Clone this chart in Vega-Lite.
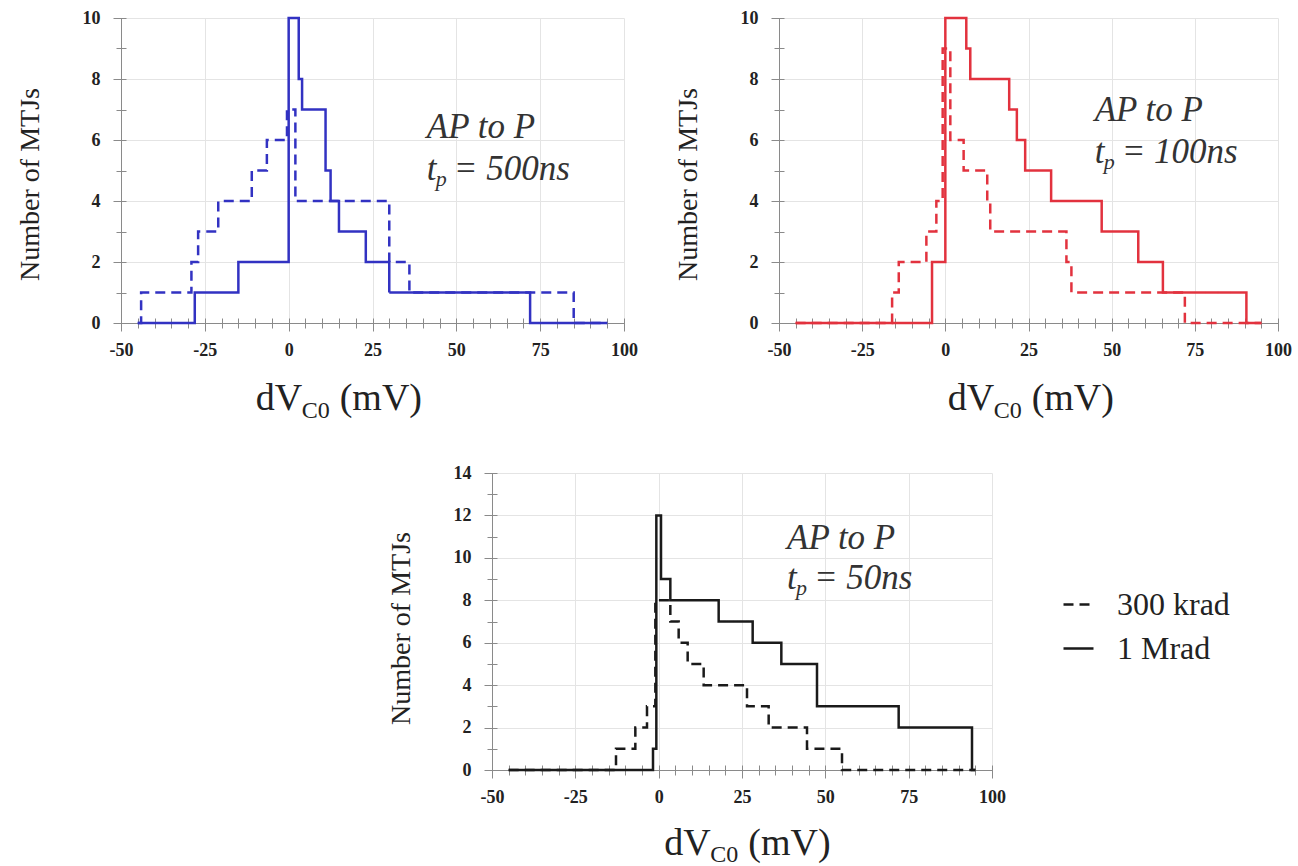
{
  "$schema": "https://vega.github.io/schema/vega-lite/v6.json",
  "background": "white",
  "padding": {"left": 16, "top": 9, "right": 0, "bottom": 0},
  "config": {
    "view": {"stroke": null},
    "axis": {
      "domainColor": "#8a8a8a",
      "tickColor": "#8a8a8a",
      "tickSize": 8,
      "gridColor": "#e4e4e4",
      "labelFont": "Liberation Serif",
      "labelFontWeight": "bold",
      "labelFontSize": 18,
      "labelColor": "#222222",
      "labelOverlap": false,
      "labelBound": false,
      "labelFlush": false,
      "titleFont": "Liberation Serif",
      "titleFontWeight": "normal",
      "titleFontSize": 28,
      "titleColor": "#222222"
    },
    "legend": {"labelFont": "Liberation Serif", "labelFontWeight": "normal"},
    "text": {"font": "Liberation Serif", "color": "#222222"}
  },
  "datasets": {
    "t500": [
      {"dose": "1 Mrad", "dv": -45, "n": 0},
      {"dose": "1 Mrad", "dv": -28, "n": 1},
      {"dose": "1 Mrad", "dv": -15, "n": 2},
      {"dose": "1 Mrad", "dv": 0, "n": 10},
      {"dose": "1 Mrad", "dv": 3, "n": 8},
      {"dose": "1 Mrad", "dv": 4, "n": 7},
      {"dose": "1 Mrad", "dv": 11, "n": 5},
      {"dose": "1 Mrad", "dv": 12.5, "n": 4},
      {"dose": "1 Mrad", "dv": 15, "n": 3},
      {"dose": "1 Mrad", "dv": 23, "n": 2},
      {"dose": "1 Mrad", "dv": 30, "n": 1},
      {"dose": "1 Mrad", "dv": 72, "n": 0},
      {"dose": "1 Mrad", "dv": 95, "n": 0},
      {"dose": "300 krad", "dv": -45, "n": 0},
      {"dose": "300 krad", "dv": -44, "n": 1},
      {"dose": "300 krad", "dv": -29, "n": 2},
      {"dose": "300 krad", "dv": -27, "n": 3},
      {"dose": "300 krad", "dv": -21, "n": 4},
      {"dose": "300 krad", "dv": -11, "n": 5},
      {"dose": "300 krad", "dv": -6.5, "n": 6},
      {"dose": "300 krad", "dv": -0.5, "n": 7},
      {"dose": "300 krad", "dv": 2, "n": 4},
      {"dose": "300 krad", "dv": 30, "n": 2},
      {"dose": "300 krad", "dv": 36, "n": 1},
      {"dose": "300 krad", "dv": 85, "n": 0},
      {"dose": "300 krad", "dv": 95, "n": 0}
    ],
    "t100": [
      {"dose": "1 Mrad", "dv": -45, "n": 0},
      {"dose": "1 Mrad", "dv": -4, "n": 2},
      {"dose": "1 Mrad", "dv": 0, "n": 10},
      {"dose": "1 Mrad", "dv": 6.3, "n": 9},
      {"dose": "1 Mrad", "dv": 7.5, "n": 8},
      {"dose": "1 Mrad", "dv": 19.2, "n": 7},
      {"dose": "1 Mrad", "dv": 21.5, "n": 6},
      {"dose": "1 Mrad", "dv": 24, "n": 5},
      {"dose": "1 Mrad", "dv": 31.8, "n": 4},
      {"dose": "1 Mrad", "dv": 47, "n": 3},
      {"dose": "1 Mrad", "dv": 58, "n": 2},
      {"dose": "1 Mrad", "dv": 65.4, "n": 1},
      {"dose": "1 Mrad", "dv": 90.5, "n": 0},
      {"dose": "1 Mrad", "dv": 95, "n": 0},
      {"dose": "300 krad", "dv": -45, "n": 0},
      {"dose": "300 krad", "dv": -16, "n": 1},
      {"dose": "300 krad", "dv": -14, "n": 2},
      {"dose": "300 krad", "dv": -5.7, "n": 3},
      {"dose": "300 krad", "dv": -2.7, "n": 4},
      {"dose": "300 krad", "dv": -0.8, "n": 9},
      {"dose": "300 krad", "dv": 1.5, "n": 6},
      {"dose": "300 krad", "dv": 5.5, "n": 5},
      {"dose": "300 krad", "dv": 12.6, "n": 4},
      {"dose": "300 krad", "dv": 13.5, "n": 3},
      {"dose": "300 krad", "dv": 36.4, "n": 2},
      {"dose": "300 krad", "dv": 37.9, "n": 1},
      {"dose": "300 krad", "dv": 72, "n": 0},
      {"dose": "300 krad", "dv": 95, "n": 0}
    ],
    "t50": [
      {"dose": "1 Mrad", "dv": -45, "n": 0},
      {"dose": "1 Mrad", "dv": -1.7, "n": 1},
      {"dose": "1 Mrad", "dv": -0.7, "n": 12},
      {"dose": "1 Mrad", "dv": 0.7, "n": 9},
      {"dose": "1 Mrad", "dv": 3.5, "n": 8},
      {"dose": "1 Mrad", "dv": 18, "n": 7},
      {"dose": "1 Mrad", "dv": 28.2, "n": 6},
      {"dose": "1 Mrad", "dv": 36.8, "n": 5},
      {"dose": "1 Mrad", "dv": 47.5, "n": 3},
      {"dose": "1 Mrad", "dv": 72, "n": 2},
      {"dose": "1 Mrad", "dv": 94, "n": 0},
      {"dose": "1 Mrad", "dv": 95, "n": 0},
      {"dose": "300 krad", "dv": -45, "n": 0},
      {"dose": "300 krad", "dv": -12.8, "n": 1},
      {"dose": "300 krad", "dv": -7, "n": 2},
      {"dose": "300 krad", "dv": -3.5, "n": 3},
      {"dose": "300 krad", "dv": -1, "n": 8},
      {"dose": "300 krad", "dv": 3.5, "n": 7},
      {"dose": "300 krad", "dv": 6, "n": 6},
      {"dose": "300 krad", "dv": 8.7, "n": 5},
      {"dose": "300 krad", "dv": 13.5, "n": 4},
      {"dose": "300 krad", "dv": 26.5, "n": 3},
      {"dose": "300 krad", "dv": 33, "n": 2},
      {"dose": "300 krad", "dv": 44.5, "n": 1},
      {"dose": "300 krad", "dv": 55, "n": 0},
      {"dose": "300 krad", "dv": 95, "n": 0}
    ]
  },
  "vconcat": [
    {
      "hconcat": [
        {
          "width": 503,
          "height": 305,
          "resolve": {"axis": {"x": "independent", "y": "independent"}},
          "layer": [
            {
              "data": {"name": "t500"},
              "mark": {"type": "line", "interpolate": "step-after", "strokeWidth": 2.5, "color": "#3232c2"},
              "encoding": {
                "x": {"field": "dv", "type": "quantitative", "scale": {"domain": [-50, 100], "nice": false, "zero": false},
                  "axis": {"title": null, "orient": "bottom", "values": [-50, -25, 0, 25, 50, 75, 100],
                    "labelExpr": "'' + datum.value", "labelPadding": 10}},
                "y": {"field": "n", "type": "quantitative", "scale": {"domain": [0, 10], "nice": false},
                  "axis": {"title": "Number of MTJs", "orient": "left", "values": [0, 2, 4, 6, 8, 10],
                    "labelExpr": "'' + datum.value",
                    "labelPadding": 13, "titleX": -83, "titleY": 166, "titleBaseline": "alphabetic"}},
                "detail": {"field": "dose"},
                "strokeDash": {"condition": {"test": "datum.dose === '300 krad'", "value": [10, 6]}, "value": [1, 0]}
              }
            },
            {
              "data": {"values": []},
              "mark": {"type": "rule"},
              "encoding": {
                "x": {"field": "dv", "type": "quantitative",
                  "axis": {"title": null, "orient": "bottom", "offset": -5, "tickSize": 10,
                    "values": [-50,-45,-40,-35,-30,-25,-20,-15,-10,-5,0,5,10,15,20,25,30,35,40,45,50,55,60,65,70,75,80,85,90,95,100],
                    "labels": false, "grid": false, "domain": false}},
                "y": {"field": "n", "type": "quantitative",
                  "axis": {"title": null, "orient": "left", "offset": -5, "tickSize": 10,
                    "values": [0,1,2,3,4,5,6,7,8,9,10],
                    "labels": false, "grid": false, "domain": false}}
              }
            },
            {
              "data": {"values": [{}]},
              "mark": {"type": "text", "fontStyle": "italic", "fontSize": 35, "align": "left", "baseline": "alphabetic", "color": "#333333"},
              "encoding": {"x": {"datum": 41.2, "axis": null}, "y": {"datum": 6.06, "axis": null}, "text": {"value": "AP to P"}}
            },
            {
              "data": {"values": [{}]},
              "mark": {"type": "text", "fontStyle": "italic", "fontSize": 35, "align": "left", "baseline": "alphabetic", "color": "#333333"},
              "encoding": {"x": {"datum": 41.2, "axis": null}, "y": {"datum": 4.69, "axis": null}, "text": {"value": "t"}}
            },
            {
              "data": {"values": [{}]},
              "mark": {"type": "text", "fontStyle": "italic", "fontSize": 22, "align": "left", "baseline": "alphabetic", "dx": 9, "dy": 6, "color": "#333333"},
              "encoding": {"x": {"datum": 41.2, "axis": null}, "y": {"datum": 4.69, "axis": null}, "text": {"value": "p"}}
            },
            {
              "data": {"values": [{}]},
              "mark": {"type": "text", "fontStyle": "italic", "fontSize": 35, "align": "left", "baseline": "alphabetic", "dx": 27, "color": "#333333"},
              "encoding": {"x": {"datum": 41.2, "axis": null}, "y": {"datum": 4.69, "axis": null}, "text": {"value": "= 500ns"}}
            },
            {
              "data": {"values": [{}]},
              "mark": {"type": "text", "fontSize": 38, "align": "left", "baseline": "alphabetic"},
              "encoding": {"x": {"datum": -9.84, "axis": null}, "y": {"datum": -2.85, "axis": null}, "text": {"value": "dV"}}
            },
            {
              "data": {"values": [{}]},
              "mark": {"type": "text", "fontSize": 24, "align": "left", "baseline": "alphabetic", "dx": 46, "dy": 8},
              "encoding": {"x": {"datum": -9.84, "axis": null}, "y": {"datum": -2.85, "axis": null}, "text": {"value": "C0"}}
            },
            {
              "data": {"values": [{}]},
              "mark": {"type": "text", "fontSize": 38, "align": "left", "baseline": "alphabetic", "dx": 84},
              "encoding": {"x": {"datum": -9.84, "axis": null}, "y": {"datum": -2.85, "axis": null}, "text": {"value": "(mV)"}}
            }
          ]
        },
        {
          "width": 499,
          "height": 305,
          "resolve": {"axis": {"x": "independent", "y": "independent"}},
          "layer": [
            {
              "data": {"name": "t100"},
              "mark": {"type": "line", "interpolate": "step-after", "strokeWidth": 2.5, "color": "#e2323e"},
              "encoding": {
                "x": {"field": "dv", "type": "quantitative", "scale": {"domain": [-50, 100], "nice": false, "zero": false},
                  "axis": {"title": null, "orient": "bottom", "values": [-50, -25, 0, 25, 50, 75, 100],
                    "labelExpr": "'' + datum.value", "labelPadding": 10}},
                "y": {"field": "n", "type": "quantitative", "scale": {"domain": [0, 10], "nice": false},
                  "axis": {"title": "Number of MTJs", "orient": "left", "values": [0, 2, 4, 6, 8, 10],
                    "labelExpr": "'' + datum.value",
                    "labelPadding": 13, "titleX": -83, "titleY": 166, "titleBaseline": "alphabetic"}},
                "detail": {"field": "dose"},
                "strokeDash": {"condition": {"test": "datum.dose === '300 krad'", "value": [10, 6]}, "value": [1, 0]}
              }
            },
            {
              "data": {"values": []},
              "mark": {"type": "rule"},
              "encoding": {
                "x": {"field": "dv", "type": "quantitative",
                  "axis": {"title": null, "orient": "bottom", "offset": -5, "tickSize": 10,
                    "values": [-50,-45,-40,-35,-30,-25,-20,-15,-10,-5,0,5,10,15,20,25,30,35,40,45,50,55,60,65,70,75,80,85,90,95,100],
                    "labels": false, "grid": false, "domain": false}},
                "y": {"field": "n", "type": "quantitative",
                  "axis": {"title": null, "orient": "left", "offset": -5, "tickSize": 10,
                    "values": [0,1,2,3,4,5,6,7,8,9,10],
                    "labels": false, "grid": false, "domain": false}}
              }
            },
            {
              "data": {"values": [{}]},
              "mark": {"type": "text", "fontStyle": "italic", "fontSize": 35, "align": "left", "baseline": "alphabetic", "color": "#333333"},
              "encoding": {"x": {"datum": 44.9, "axis": null}, "y": {"datum": 6.63, "axis": null}, "text": {"value": "AP to P"}}
            },
            {
              "data": {"values": [{}]},
              "mark": {"type": "text", "fontStyle": "italic", "fontSize": 35, "align": "left", "baseline": "alphabetic", "color": "#333333"},
              "encoding": {"x": {"datum": 44.9, "axis": null}, "y": {"datum": 5.26, "axis": null}, "text": {"value": "t"}}
            },
            {
              "data": {"values": [{}]},
              "mark": {"type": "text", "fontStyle": "italic", "fontSize": 22, "align": "left", "baseline": "alphabetic", "dx": 9, "dy": 6, "color": "#333333"},
              "encoding": {"x": {"datum": 44.9, "axis": null}, "y": {"datum": 5.26, "axis": null}, "text": {"value": "p"}}
            },
            {
              "data": {"values": [{}]},
              "mark": {"type": "text", "fontStyle": "italic", "fontSize": 35, "align": "left", "baseline": "alphabetic", "dx": 27, "color": "#333333"},
              "encoding": {"x": {"datum": 44.9, "axis": null}, "y": {"datum": 5.26, "axis": null}, "text": {"value": "= 100ns"}}
            },
            {
              "data": {"values": [{}]},
              "mark": {"type": "text", "fontSize": 38, "align": "left", "baseline": "alphabetic"},
              "encoding": {"x": {"datum": 0.7, "axis": null}, "y": {"datum": -2.85, "axis": null}, "text": {"value": "dV"}}
            },
            {
              "data": {"values": [{}]},
              "mark": {"type": "text", "fontSize": 24, "align": "left", "baseline": "alphabetic", "dx": 46, "dy": 8},
              "encoding": {"x": {"datum": 0.7, "axis": null}, "y": {"datum": -2.85, "axis": null}, "text": {"value": "C0"}}
            },
            {
              "data": {"values": [{}]},
              "mark": {"type": "text", "fontSize": 38, "align": "left", "baseline": "alphabetic", "dx": 84},
              "encoding": {"x": {"datum": 0.7, "axis": null}, "y": {"datum": -2.85, "axis": null}, "text": {"value": "(mV)"}}
            }
          ]
        }
      ],
      "bounds": "flush",
      "spacing": 155
    },
    {
      "hconcat": [
        {
          "width": 371,
          "height": 297,
          "data": {"values": []},
          "mark": {"type": "point", "opacity": 0},
          "encoding": {}
        },
        {
          "width": 500,
          "height": 297,
          "resolve": {"axis": {"x": "independent", "y": "independent"}},
          "layer": [
            {
              "data": {"name": "t50"},
              "mark": {"type": "line", "interpolate": "step-after", "strokeWidth": 2.5, "color": "#1a1a1a"},
              "encoding": {
                "x": {"field": "dv", "type": "quantitative", "scale": {"domain": [-50, 100], "nice": false, "zero": false},
                  "axis": {"title": null, "orient": "bottom", "values": [-50, -25, 0, 25, 50, 75, 100],
                    "labelExpr": "'' + datum.value", "labelPadding": 10}},
                "y": {"field": "n", "type": "quantitative", "scale": {"domain": [0, 14], "nice": false},
                  "axis": {"title": "Number of MTJs", "orient": "left", "values": [0, 2, 4, 6, 8, 10, 12, 14],
                    "labelExpr": "'' + datum.value",
                    "labelPadding": 13, "titleX": -83, "titleY": 155, "titleBaseline": "alphabetic"}},
                "strokeDash": {"field": "dose", "type": "nominal",
                  "scale": {"domain": ["300 krad", "1 Mrad"], "range": [[10, 6], [1, 0]]},
                  "legend": {"orient": "none", "legendX": 941, "legendY": 570, "title": null,
                    "symbolType": "stroke", "symbolSize": 900, "symbolStrokeWidth": 2.5, "symbolStrokeColor": "#1a1a1a",
                    "labelFont": "Liberation Serif", "labelFontSize": 32, "labelColor": "#222222",
                    "labelOffset": 22, "rowPadding": 11, "padding": 0}}
              }
            },
            {
              "data": {"values": []},
              "mark": {"type": "rule"},
              "encoding": {
                "x": {"field": "dv", "type": "quantitative",
                  "axis": {"title": null, "orient": "bottom", "offset": -5, "tickSize": 10,
                    "values": [-50,-45,-40,-35,-30,-25,-20,-15,-10,-5,0,5,10,15,20,25,30,35,40,45,50,55,60,65,70,75,80,85,90,95,100],
                    "labels": false, "grid": false, "domain": false}},
                "y": {"field": "n", "type": "quantitative",
                  "axis": {"title": null, "orient": "left", "offset": -5, "tickSize": 10,
                    "values": [0,1,2,3,4,5,6,7,8,9,10,11,12,13,14],
                    "labels": false, "grid": false, "domain": false}}
              }
            },
            {
              "data": {"values": [{}]},
              "mark": {"type": "text", "fontStyle": "italic", "fontSize": 35, "align": "left", "baseline": "alphabetic", "color": "#333333"},
              "encoding": {"x": {"datum": 38.5, "axis": null}, "y": {"datum": 10.44, "axis": null}, "text": {"value": "AP to P"}}
            },
            {
              "data": {"values": [{}]},
              "mark": {"type": "text", "fontStyle": "italic", "fontSize": 35, "align": "left", "baseline": "alphabetic", "color": "#333333"},
              "encoding": {"x": {"datum": 38.5, "axis": null}, "y": {"datum": 8.55, "axis": null}, "text": {"value": "t"}}
            },
            {
              "data": {"values": [{}]},
              "mark": {"type": "text", "fontStyle": "italic", "fontSize": 22, "align": "left", "baseline": "alphabetic", "dx": 9, "dy": 6, "color": "#333333"},
              "encoding": {"x": {"datum": 38.5, "axis": null}, "y": {"datum": 8.55, "axis": null}, "text": {"value": "p"}}
            },
            {
              "data": {"values": [{}]},
              "mark": {"type": "text", "fontStyle": "italic", "fontSize": 35, "align": "left", "baseline": "alphabetic", "dx": 27, "color": "#333333"},
              "encoding": {"x": {"datum": 38.5, "axis": null}, "y": {"datum": 8.55, "axis": null}, "text": {"value": "= 50ns"}}
            },
            {
              "data": {"values": [{}]},
              "mark": {"type": "text", "fontSize": 38, "align": "left", "baseline": "alphabetic"},
              "encoding": {"x": {"datum": 1.7, "axis": null}, "y": {"datum": -4.0, "axis": null}, "text": {"value": "dV"}}
            },
            {
              "data": {"values": [{}]},
              "mark": {"type": "text", "fontSize": 24, "align": "left", "baseline": "alphabetic", "dx": 46, "dy": 7},
              "encoding": {"x": {"datum": 1.7, "axis": null}, "y": {"datum": -4.0, "axis": null}, "text": {"value": "C0"}}
            },
            {
              "data": {"values": [{}]},
              "mark": {"type": "text", "fontSize": 38, "align": "left", "baseline": "alphabetic", "dx": 84},
              "encoding": {"x": {"datum": 1.7, "axis": null}, "y": {"datum": -4.0, "axis": null}, "text": {"value": "(mV)"}}
            }
          ]
        }
      ],
      "bounds": "flush",
      "spacing": 0
    }
  ],
  "bounds": "full",
  "spacing": 41
}
